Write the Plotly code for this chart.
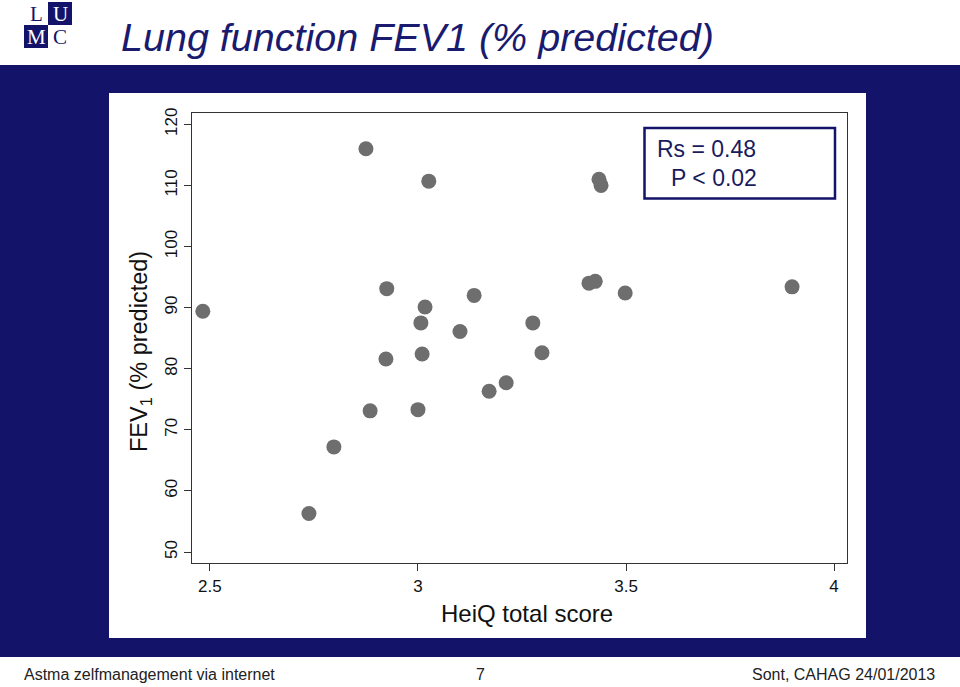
import plotly.graph_objects as go

# ---- data ----
heiq_score = [2.483, 2.875, 3.026, 3.435, 3.440, 2.925, 3.017, 3.135, 3.007, 3.101,
              3.276, 2.923, 3.010, 3.298, 3.171, 3.212, 2.885, 3.000, 2.798, 2.738,
              3.411, 3.426, 3.498, 3.899]
fev1_pct = [89.4, 116.0, 110.7, 111.0, 110.0, 93.1, 90.1, 92.0, 87.5, 86.1,
            87.5, 81.6, 82.4, 82.6, 76.3, 77.7, 73.1, 73.3, 67.2, 56.3,
            94.0, 94.3, 92.4, 93.4]
x_ticks = [2.5, 3, 3.5, 4]
x_tick_labels = ["2.5", "3", "3.5", "4"]
y_ticks = [50, 60, 70, 80, 90, 100, 110, 120]
y_tick_labels = ["50", "60", "70", "80", "90", "100", "110", "120"]
stat_lines = ["Rs = 0.48", "P < 0.02"]

W, H = 960, 687
L, R, T, B = 192, 847, 113, 563
NAVY = "#131369"
FONT = "Liberation Sans, Arial, sans-serif"


def px(x):
    return (x - L) / (R - L)


def py(y):
    return 1 - (y - T) / (B - T)


fig = go.Figure()
fig.add_trace(go.Scatter(
    x=heiq_score, y=fev1_pct, mode="markers",
    marker=dict(size=15, color="#6e6e6e", line=dict(width=0)),
    showlegend=False, hoverinfo="x+y"))

shapes = [
    # navy band
    dict(type="rect", xref="paper", yref="paper", x0=px(0), x1=px(W), y0=py(657), y1=py(65),
         fillcolor=NAVY, line=dict(width=0), layer="below"),
    # white panel
    dict(type="rect", xref="paper", yref="paper", x0=px(109), x1=px(866), y0=py(638), y1=py(93),
         fillcolor="white", line=dict(width=0), layer="below"),
    # stats box
    dict(type="rect", xref="paper", yref="paper", x0=px(644.5), x1=px(835), y0=py(198.5), y1=py(128),
         fillcolor="white", line=dict(color=NAVY, width=2.5), layer="above"),
    # logo cells
    dict(type="rect", xref="paper", yref="paper", x0=px(48), x1=px(72), y0=py(25), y1=py(2),
         fillcolor=NAVY, line=dict(width=0)),
    dict(type="rect", xref="paper", yref="paper", x0=px(24), x1=px(48), y0=py(48), y1=py(25),
         fillcolor=NAVY, line=dict(width=0)),
]

logo_font = "Liberation Serif, serif"
annotations = [
    dict(text="Lung function FEV1 (% predicted)", xref="paper", yref="paper",
         x=px(119), y=py(37), xanchor="left", yanchor="middle", showarrow=False,
         font=dict(family=FONT, size=39.5, color="#1a1a6e", style="italic")),
    dict(text=stat_lines[0], xref="paper", yref="paper", x=px(655), y=py(149),
         xanchor="left", yanchor="middle", showarrow=False,
         font=dict(family=FONT, size=23, color="#1a1a5e")),
    dict(text=stat_lines[1], xref="paper", yref="paper", x=px(669), y=py(178),
         xanchor="left", yanchor="middle", showarrow=False,
         font=dict(family=FONT, size=23, color="#1a1a5e")),
    # axis titles
    dict(text="HeiQ total score", xref="paper", yref="paper", x=px(527), y=py(613),
         xanchor="center", yanchor="middle", showarrow=False,
         font=dict(family=FONT, size=24, color="#111111")),
    dict(text="FEV<sub>1</sub> (% predicted)", xref="paper", yref="paper",
         x=px(140), y=py(352), xanchor="center", yanchor="middle", showarrow=False,
         textangle=-90, font=dict(family=FONT, size=23.5, color="#111111")),
    # logo letters
    dict(text="L", xref="paper", yref="paper", x=px(36), y=py(14), showarrow=False,
         xanchor="center", yanchor="middle", borderpad=0,
         font=dict(family=logo_font, size=21, color=NAVY)),
    dict(text="U", xref="paper", yref="paper", x=px(60), y=py(14), showarrow=False,
         xanchor="center", yanchor="middle", borderpad=0,
         font=dict(family=logo_font, size=21, color="white")),
    dict(text="M", xref="paper", yref="paper", x=px(36), y=py(37), showarrow=False,
         xanchor="center", yanchor="middle", borderpad=0,
         font=dict(family=logo_font, size=21, color="white")),
    dict(text="C", xref="paper", yref="paper", x=px(60), y=py(37), showarrow=False,
         xanchor="center", yanchor="middle", borderpad=0,
         font=dict(family=logo_font, size=21, color=NAVY)),
    # footer
    dict(text="Astma zelfmanagement via internet", xref="paper", yref="paper",
         x=px(22), y=py(674), xanchor="left", yanchor="middle", showarrow=False,
         font=dict(family=FONT, size=16, color="#222222")),
    dict(text="7", xref="paper", yref="paper", x=px(480), y=py(674),
         xanchor="center", yanchor="middle", showarrow=False,
         font=dict(family=FONT, size=16, color="#222222")),
    dict(text="Sont, CAHAG 24/01/2013", xref="paper", yref="paper",
         x=px(937), y=py(674), xanchor="right", yanchor="middle", showarrow=False,
         font=dict(family=FONT, size=16, color="#222222")),
]

fig.update_layout(
    width=W, height=H,
    margin=dict(l=L, r=W - R, t=T, b=H - B, pad=0),
    paper_bgcolor="white", plot_bgcolor="white",
    shapes=shapes, annotations=annotations,
    font=dict(family=FONT, color="#111111"),
    xaxis=dict(range=[2.457, 4.031], tickvals=x_ticks, ticktext=x_tick_labels,
               showgrid=False, zeroline=False, showline=True, mirror=True,
               linecolor="#333333", linewidth=1.2, ticks="outside", ticklen=7,
               tickcolor="#333333", tickfont=dict(size=17)),
    yaxis=dict(range=[48.2, 121.85], tickvals=y_ticks, ticktext=y_tick_labels,
               showgrid=False, zeroline=False, showline=True, mirror=True,
               linecolor="#333333", linewidth=1.2, ticks="outside", ticklen=7,
               tickcolor="#333333", tickfont=dict(size=17), tickangle=-90),
)

fig.write_html("out.html")
